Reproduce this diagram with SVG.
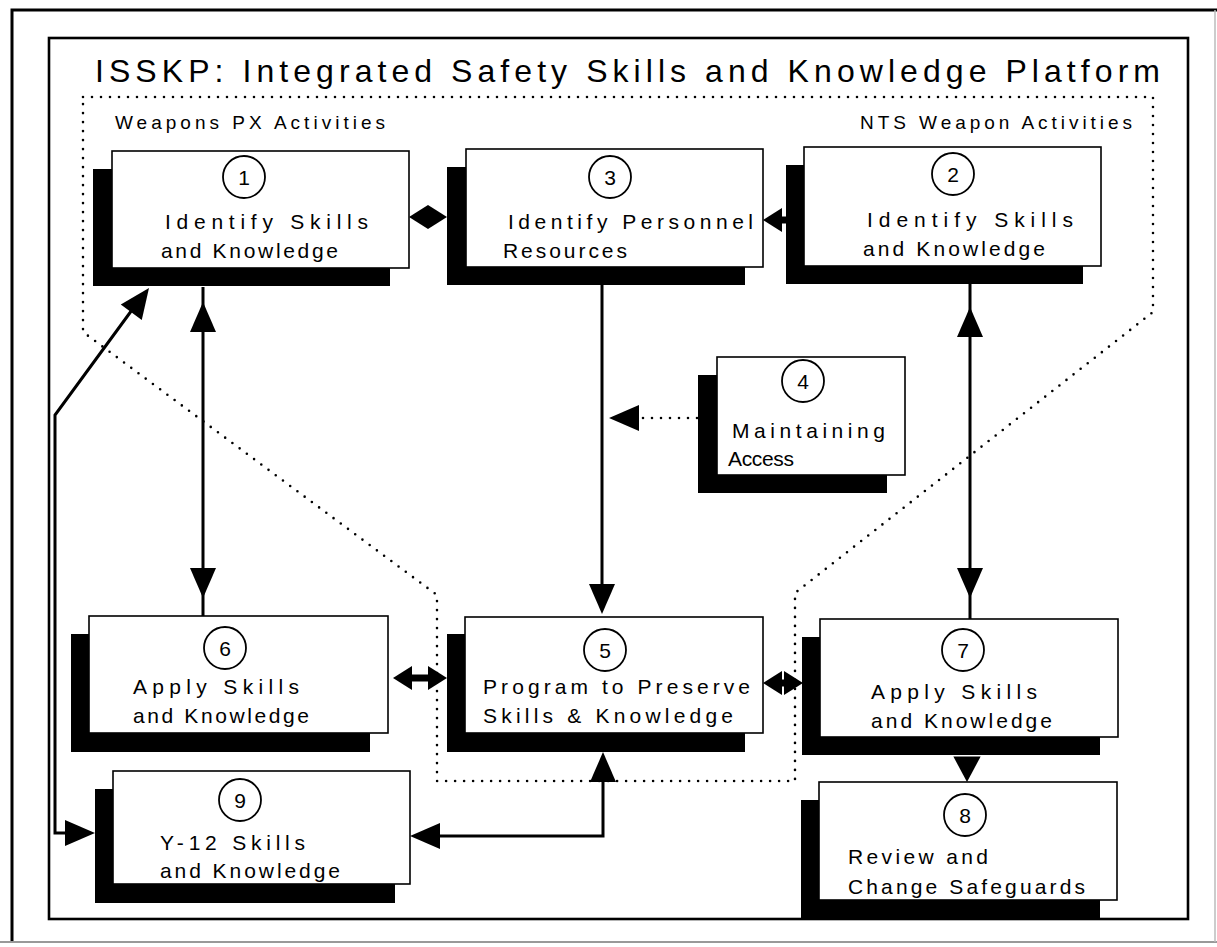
<svg xmlns="http://www.w3.org/2000/svg" xmlns:xlink="http://www.w3.org/1999/xlink" width="1217" height="947" viewBox="0 0 1217 947">
<style>
.t{font-family:"Liberation Sans",Arial,sans-serif;font-size:21px;fill:#000}
.ttl{font-family:"Liberation Sans",Arial,sans-serif;font-size:32px;fill:#000}
.sec{font-family:"Liberation Sans",Arial,sans-serif;font-size:19px;fill:#000}
.num{font-family:"Liberation Sans",Arial,sans-serif;font-size:21px;fill:#000;text-anchor:middle}
.box{fill:#fff;stroke:#000;stroke-width:1.6}
.sh{fill:#000}
.c{fill:#fff;stroke:#000;stroke-width:1.8}
.ln{fill:none;stroke:#000;stroke-width:3}
.sh7{fill:none;stroke:#000;stroke-width:7}
.dot{fill:none;stroke:#000;stroke-width:2.6;stroke-linecap:round;stroke-dasharray:0 9}
</style>
<defs>
<path id="H" d="M0,0 L-30,-13 L-30,13 Z"/>
<path id="S" d="M0,0 L-19,-12 L-19,12 Z"/>
</defs>
<rect width="1217" height="947" fill="#fff"/>
<g id="frame">
<path d="M12,943 V10 H1217" fill="none" stroke="#000" stroke-width="3"/>
<path d="M0,942 H1217" fill="none" stroke="#999" stroke-width="2"/>
<path d="M1215,10 V942" fill="none" stroke="#bbb" stroke-width="1.5"/>
<rect x="49" y="38" width="1139" height="881" fill="none" stroke="#000" stroke-width="2.6"/>
</g>
<g id="title">
<text class="ttl" x="95" y="82" textLength="1065" lengthAdjust="spacing">ISSKP: Integrated Safety Skills and Knowledge Platform</text>
</g>
<g id="boundary">
<path class="dot" d="M83,97 H1153 V312 L795,593 V781 H437 V595 L83,332 Z"/>
<text class="sec" x="115" y="129" textLength="270" lengthAdjust="spacing">Weapons PX Activities</text>
<text class="sec" x="860" y="129" textLength="272" lengthAdjust="spacing">NTS Weapon Activities</text>
</g>
<g id="connectors">
<line class="sh7" x1="425" y1="217" x2="431" y2="217"/>
<use href="#S" transform="translate(409,217) rotate(180)"/>
<use href="#S" transform="translate(447,217)"/>
<line class="sh7" x1="780" y1="220" x2="795" y2="220"/>
<use href="#S" transform="translate(763,220) rotate(180)"/>
<use href="#S" transform="translate(812,220)"/>
<line class="ln" x1="203" y1="287" x2="203" y2="616"/>
<use href="#H" transform="translate(203,302) rotate(-90)"/>
<use href="#H" transform="translate(203,598) rotate(90)"/>
<line class="ln" x1="602" y1="285" x2="602" y2="600"/>
<use href="#H" transform="translate(602,614) rotate(90)"/>
<line class="dot" x1="697" y1="418" x2="640" y2="418"/>
<use href="#H" transform="translate(609,418) rotate(180)"/>
<line class="ln" x1="970" y1="284" x2="970" y2="619"/>
<use href="#H" transform="translate(970,307) rotate(-90)"/>
<use href="#H" transform="translate(970,598) rotate(90)"/>
<line class="sh7" x1="410" y1="678" x2="430" y2="678"/>
<use href="#S" transform="translate(393,678) rotate(180)"/>
<use href="#S" transform="translate(447,678)"/>
<line class="sh7" x1="780" y1="683" x2="786" y2="683"/>
<use href="#S" transform="translate(763,683) rotate(180)"/>
<use href="#S" transform="translate(803,683)"/>
<use href="#H" transform="translate(967,782) rotate(90) scale(0.85,1.05)"/>
<path class="ln" d="M420,836 H603 V765"/>
<use href="#H" transform="translate(410,836) rotate(180)"/>
<use href="#H" transform="translate(603,752) rotate(-90)"/>
<path class="ln" d="M140,299 L55,415 V833 H85"/>
<use href="#H" transform="translate(95,833)"/>
<use href="#H" transform="translate(149,288) rotate(-53.8)"/>
</g>
<g id="node1">
<rect class="sh" x="93" y="169" width="297" height="117"/>
<rect class="box" x="112" y="151" width="297" height="117"/>
<circle class="c" cx="244" cy="177" r="21"/>
<text class="num" x="244" y="185">1</text>
<text class="t" x="165" y="229" textLength="203" lengthAdjust="spacing">Identify Skills</text>
<text class="t" x="161" y="258" textLength="177" lengthAdjust="spacing">and Knowledge</text>
</g>
<g id="node3">
<rect class="sh" x="447" y="167" width="298" height="118"/>
<rect class="box" x="466" y="149" width="297" height="118"/>
<circle class="c" cx="610" cy="177" r="21"/>
<text class="num" x="610" y="185">3</text>
<text class="t" x="508" y="229" textLength="245" lengthAdjust="spacing">Identify Personnel</text>
<text class="t" x="503" y="258" textLength="124" lengthAdjust="spacing">Resources</text>
</g>
<g id="node2">
<rect class="sh" x="786" y="165" width="297" height="119"/>
<rect class="box" x="804" y="147" width="297" height="119"/>
<circle class="c" cx="953" cy="174" r="21"/>
<text class="num" x="953" y="182">2</text>
<text class="t" x="867" y="227" textLength="206" lengthAdjust="spacing">Identify Skills</text>
<text class="t" x="863" y="256" textLength="182" lengthAdjust="spacing">and Knowledge</text>
</g>
<g id="node4">
<rect class="sh" x="698" y="375" width="189" height="118"/>
<rect class="box" x="717" y="357" width="188" height="118"/>
<circle class="c" cx="803" cy="381" r="21"/>
<text class="num" x="803" y="389">4</text>
<text class="t" x="732" y="438" textLength="153" lengthAdjust="spacing">Maintaining</text>
<text class="t" x="728" y="466" textLength="66" lengthAdjust="spacing">Access</text>
</g>
<g id="node6">
<rect class="sh" x="71" y="634" width="299" height="118"/>
<rect class="box" x="89" y="616" width="299" height="117"/>
<circle class="c" cx="225" cy="648" r="21"/>
<text class="num" x="225" y="656">6</text>
<text class="t" x="133" y="694" textLength="166" lengthAdjust="spacing">Apply Skills</text>
<text class="t" x="133" y="723" textLength="176" lengthAdjust="spacing">and Knowledge</text>
</g>
<g id="node5">
<rect class="sh" x="447" y="634" width="298" height="118"/>
<rect class="box" x="465" y="617" width="298" height="116"/>
<circle class="c" cx="605" cy="650" r="21"/>
<text class="num" x="605" y="658">5</text>
<text class="t" x="483" y="694" textLength="267" lengthAdjust="spacing">Program to Preserve</text>
<text class="t" x="483" y="723" textLength="250" lengthAdjust="spacing">Skills &amp; Knowledge</text>
</g>
<g id="node7">
<rect class="sh" x="802" y="637" width="298" height="118"/>
<rect class="box" x="820" y="619" width="298" height="118"/>
<circle class="c" cx="963" cy="650" r="21"/>
<text class="num" x="963" y="658">7</text>
<text class="t" x="871" y="699" textLength="166" lengthAdjust="spacing">Apply Skills</text>
<text class="t" x="871" y="728" textLength="181" lengthAdjust="spacing">and Knowledge</text>
</g>
<g id="node8">
<rect class="sh" x="801" y="800" width="299" height="119"/>
<rect class="box" x="819" y="782" width="298" height="118"/>
<circle class="c" cx="965" cy="815" r="21"/>
<text class="num" x="965" y="823">8</text>
<text class="t" x="848" y="864" textLength="140" lengthAdjust="spacing">Review and</text>
<text class="t" x="848" y="894" textLength="237" lengthAdjust="spacing">Change Safeguards</text>
</g>
<g id="node9">
<rect class="sh" x="95" y="789" width="300" height="114"/>
<rect class="box" x="113" y="771" width="297" height="113"/>
<circle class="c" cx="240" cy="800" r="21"/>
<text class="num" x="240" y="808">9</text>
<text class="t" x="160" y="850" textLength="145" lengthAdjust="spacing">Y-12 Skills</text>
<text class="t" x="160" y="878" textLength="180" lengthAdjust="spacing">and Knowledge</text>
</g>
</svg>
